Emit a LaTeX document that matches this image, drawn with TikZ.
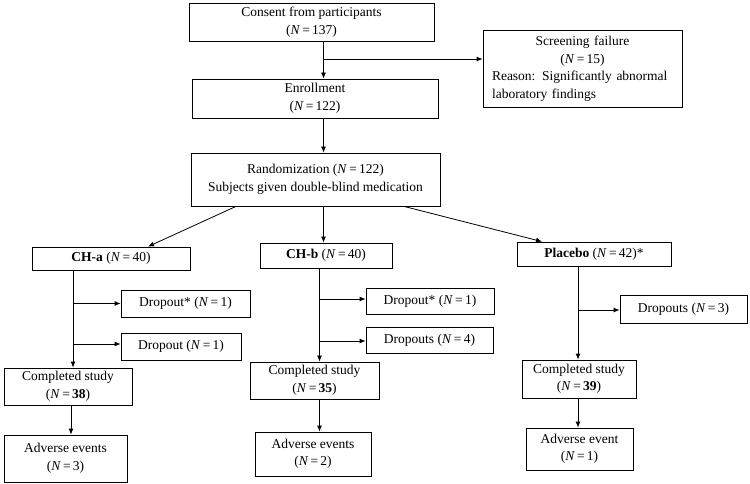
\documentclass[tikz,border=0pt]{standalone}
\usepackage{fontspec}
\setmainfont{Liberation Serif}
\usetikzlibrary{arrows.meta}
\newcommand{\Nis}[1]{(\textit{N}\,=\,#1)}

\begin{document}
\begin{tikzpicture}[x=1pt,y=-1pt,
  box/.style={draw,line width=0.8pt,inner sep=2pt,align=center,
    font=\fontsize{13.5}{17.5}\selectfont},
  arr/.style={line width=0.8pt,-{Latex[length=6pt,width=5pt]}},
  ln/.style={line width=0.8pt}]
  \useasboundingbox (0,0) rectangle (750,484);
  % top part
  \node[box,minimum width=245pt,minimum height=38pt] (consent) at (311.5,22) {Consent from participants\\ \Nis{137}};
  \node[box,minimum width=199pt,minimum height=77pt,text width=181pt,align=left,inner xsep=9pt] (screen) at (582.5,68.5)
    {\makebox[\linewidth][c]{Screening failure}\\ \makebox[\linewidth][c]{\Nis{15}}\\ Reason: Significantly abnormal\\ laboratory findings};
  \node[box,minimum width=246pt,minimum height=39pt] (enroll) at (315,98.5) {Enrollment\\ \Nis{122}};
  \node[box,minimum width=249pt,minimum height=53pt] (random) at (315.5,179.5) {Randomization \Nis{122}\\ Subjects given double-blind medication};
  % arms
  \node[box,minimum width=158pt,minimum height=23pt] (cha) at (111,258.5) {\textbf{CH-a} \Nis{40}};
  \node[box,minimum width=132pt,minimum height=25pt] (chb) at (326,255.5) {\textbf{CH-b} \Nis{40}};
  \node[box,minimum width=154pt,minimum height=24pt] (plac) at (594,254) {\textbf{Placebo} \Nis{42}*};
  % CH-a
  \node[box,minimum width=129pt,minimum height=27pt] (dropa1) at (185.5,303.5) {Dropout* \Nis{1}};
  \node[box,minimum width=120pt,minimum height=27pt] (dropa2) at (181,346.5) {Dropout \Nis{1}};
  \node[box,minimum width=128pt,minimum height=37pt] (compa) at (68,386.5) {Completed study\\ \Nis{\textbf{38}}};
  \node[box,minimum width=123pt,minimum height=47pt] (adva) at (65.5,458.5) {Adverse events\\ \Nis{3}};
  % CH-b
  \node[box,minimum width=128pt,minimum height=26pt] (dropb1) at (430,301) {Dropout* \Nis{1}};
  \node[box,minimum width=127pt,minimum height=26pt] (dropb2) at (429.5,340) {Dropouts \Nis{4}};
  \node[box,minimum width=129pt,minimum height=37pt] (compb) at (314.5,380.5) {Completed study\\ \Nis{\textbf{35}}};
  \node[box,minimum width=116pt,minimum height=44pt] (advb) at (313,454) {Adverse events\\ \Nis{2}};
  % Placebo
  \node[box,minimum width=127pt,minimum height=28pt] (dropp) at (683.5,309) {Dropouts \Nis{3}};
  \node[box,minimum width=114pt,minimum height=38pt] (compp) at (579,379) {Completed study\\ \Nis{\textbf{39}}};
  \node[box,minimum width=107pt,minimum height=42pt] (advp) at (579.5,449) {Adverse event\\ \Nis{1}};

  \coordinate (trunk) at (323.5,0);
  \coordinate (fork) at (324,59);
  \coordinate (ta) at (73,0);
  \coordinate (tae) at (71,0);
  \coordinate (tb) at (319.5,0);
  \coordinate (tp) at (578,0);

  \draw[arr] (consent.south -| trunk) -- (enroll.north -| trunk);
  \draw[arr] (fork) -- (fork -| screen.west);
  \draw[arr] (enroll.south -| trunk) -- (random.north -| trunk);
  \draw[arr] ([xshift=-79.5pt]random.south) -- ([xshift=37pt]cha.north);
  \draw[arr] (random.south -| trunk) -- (chb.north -| trunk);
  \draw[arr] ([xshift=88.5pt]random.south) -- ([xshift=-52pt]plac.north);

  \draw[arr] (cha.south -| ta) -- (compa.north -| ta);
  \draw[arr] (dropa1.west -| ta) -- (dropa1.west);
  \draw[arr] ([yshift=2.5pt]dropa2.west -| ta) -- ([yshift=2.5pt]dropa2.west);
  \draw[arr] (compa.south -| tae) -- (adva.north -| tae);

  \draw[arr] (chb.south -| tb) -- (compb.north -| tb);
  \draw[arr] ([yshift=2pt]dropb1.west -| tb) -- ([yshift=2pt]dropb1.west);
  \draw[arr] ([yshift=-1pt]dropb2.west -| tb) -- ([yshift=-1pt]dropb2.west);
  \draw[arr] (compb.south -| tb) -- (advb.north -| tb);

  \draw[arr] (plac.south -| tp) -- (compp.north -| tp);
  \draw[arr] ([yshift=-1pt]dropp.west -| tp) -- ([yshift=-1pt]dropp.west);
  \draw[arr] (compp.south -| tp) -- (advp.north -| tp);
\end{tikzpicture}
\end{document}
